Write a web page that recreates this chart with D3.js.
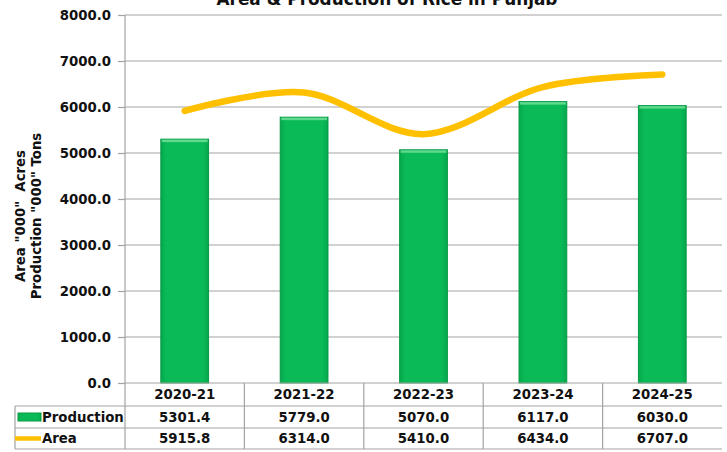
<!DOCTYPE html>
<html>
<head>
<meta charset="utf-8">
<script src="https://cdn.jsdelivr.net/npm/d3@7/dist/d3.min.js"></script>
<style>
  html, body { margin: 0; padding: 0; background: #fff; }
  svg { display: block; }
  text { font-family: "DejaVu Sans", Verdana, sans-serif; font-weight: bold; fill: #111; }
</style>
</head>
<body>
<svg id="chart" width="727" height="452"></svg>
<script>
const title = "Area & Production of Rice in Punjab";
const categories = ["2020-21", "2021-22", "2022-23", "2023-24", "2024-25"];
const production = [5301.4, 5779.0, 5070.0, 6117.0, 6030.0];
const area = [5915.8, 6314.0, 5410.0, 6434.0, 6707.0];
const yTicks = [0, 1000, 2000, 3000, 4000, 5000, 6000, 7000, 8000];
const seriesNames = ["Production", "Area"];
const yTitleLines = ['Area "000"  Acres', 'Production "000" Tons'];

(function draw() {
const svg = d3.select("#chart");
const pLeft = 125, pRight = 722, pTop = 15, pBottom = 383;
const tableLeft = 15;
const rowLines = [383, 406, 428, 449];

const x = d3.scaleBand().domain(categories).range([pLeft, pRight]).paddingInner(0.6).paddingOuter(0.3);
const xStep = d3.scaleBand().domain(categories).range([pLeft, pRight]);
const y = d3.scaleLinear().domain([0, 8000]).range([pBottom, pTop]);

const defs = svg.append("defs");
const g = defs.append("linearGradient").attr("id", "barGrad").attr("x1", 0).attr("x2", 1).attr("y1", 0).attr("y2", 0);
g.append("stop").attr("offset", "0").attr("stop-color", "#05a84c");
g.append("stop").attr("offset", "0.12").attr("stop-color", "#0aba57");
g.append("stop").attr("offset", "0.88").attr("stop-color", "#0aba57");
g.append("stop").attr("offset", "1").attr("stop-color", "#05a84c");

// gridlines
svg.append("g").selectAll("line").data(yTicks.filter(d => d > 0)).join("line")
  .attr("x1", pLeft).attr("x2", pRight)
  .attr("y1", d => y(d)).attr("y2", d => y(d))
  .attr("stroke", "#a3a3a3").attr("stroke-width", 1.2);

// y axis
const yAxis = d3.axisLeft(y).tickValues(yTicks).tickFormat(d3.format(".1f")).tickSize(7).tickPadding(7);
const ya = svg.append("g").attr("transform", `translate(${pLeft},0)`).call(yAxis);
ya.select(".domain").remove();
ya.selectAll(".tick line").attr("stroke", "#a3a3a3").attr("stroke-width", 1.2);
ya.selectAll(".tick text").attr("font-size", "13.3px").attr("font-family", '"DejaVu Sans", sans-serif')
  .attr("font-weight", "bold").attr("fill", "#111");

// bars
svg.append("g").selectAll("rect").data(production).join("rect")
  .attr("x", (d, i) => x(categories[i]))
  .attr("y", d => y(d))
  .attr("width", x.bandwidth())
  .attr("height", d => y(0) - y(d))
  .attr("fill", "url(#barGrad)")
  .attr("stroke", "#079a45").attr("stroke-width", 1);
svg.append("g").selectAll("rect").data(production).join("rect")
  .attr("x", (d, i) => x(categories[i]) + 1)
  .attr("y", d => y(d) + 0.5)
  .attr("width", x.bandwidth() - 2)
  .attr("height", 2.5)
  .attr("fill", "#5fd98e");

// area line
const line = d3.line()
  .x((d, i) => x(categories[i]) + x.bandwidth() / 2)
  .y(d => y(d))
  .curve(d3.curveCardinal.tension(0));
svg.append("path").datum(area).attr("d", line)
  .attr("fill", "none").attr("stroke", "#ffc000").attr("stroke-width", 6.5)
  .attr("stroke-linecap", "round").attr("stroke-linejoin", "round");

// table lines
const tl = svg.append("g").attr("stroke", "#a3a3a3").attr("stroke-width", 1.2);
tl.append("line").attr("x1", pLeft).attr("x2", pRight).attr("y1", rowLines[0]).attr("y2", rowLines[0]);
rowLines.slice(1).forEach(yy => tl.append("line").attr("x1", tableLeft).attr("x2", pRight).attr("y1", yy).attr("y2", yy));
tl.append("line").attr("x1", pLeft).attr("x2", pLeft).attr("y1", pTop).attr("y2", rowLines[3]);
tl.append("line").attr("x1", tableLeft).attr("x2", tableLeft).attr("y1", rowLines[1]).attr("y2", rowLines[3]);
categories.slice(0, -1).forEach(c => {
  const xx = xStep(c) + xStep.bandwidth();
  tl.append("line").attr("x1", xx).attr("x2", xx).attr("y1", rowLines[0]).attr("y2", rowLines[3]);
});

// table text
const cx = c => xStep(c) + xStep.bandwidth() / 2;
const rowMid = i => (rowLines[i] + rowLines[i + 1]) / 2;
const fmt = d3.format(".1f");
svg.append("g").selectAll("text").data(categories).join("text")
  .attr("x", c => cx(c)).attr("y", rowMid(0)).attr("dy", "0.36em")
  .attr("text-anchor", "middle").attr("font-size", "13.3px").text(c => c);
[production, area].forEach((arr, r) => {
  svg.append("g").selectAll("text").data(arr).join("text")
    .attr("x", (d, i) => cx(categories[i])).attr("y", rowMid(r + 1)).attr("dy", "0.36em")
    .attr("text-anchor", "middle").attr("font-size", "13.3px").text(d => fmt(d));
});

// legend keys
svg.append("rect").attr("x", 18).attr("y", 413).attr("width", 23).attr("height", 8)
  .attr("fill", "url(#barGrad)").attr("stroke", "#079a45").attr("stroke-width", 1);
svg.append("line").attr("x1", 15).attr("x2", 41).attr("y1", rowMid(2)).attr("y2", rowMid(2))
  .attr("stroke", "#ffc000").attr("stroke-width", 4.5);
seriesNames.forEach((n, r) => {
  svg.append("text").attr("x", 42).attr("y", rowMid(r + 1)).attr("dy", "0.36em")
    .attr("font-size", "13.3px").text(n);
});

// y title
yTitleLines.forEach((t, i) => {
  svg.append("text").attr("transform", `translate(${20 + i * 16},216) rotate(-90)`)
    .attr("text-anchor", "middle").attr("dy", "0.36em").attr("font-size", "13.3px")
    .style("white-space", "pre").text(t);
});

// title (partly cut at the top edge, as in the reference)
svg.append("text").attr("x", 387).attr("y", 5).attr("text-anchor", "middle")
  .attr("font-size", "16.9px").text(title);
})();
</script>
</body>
</html>
